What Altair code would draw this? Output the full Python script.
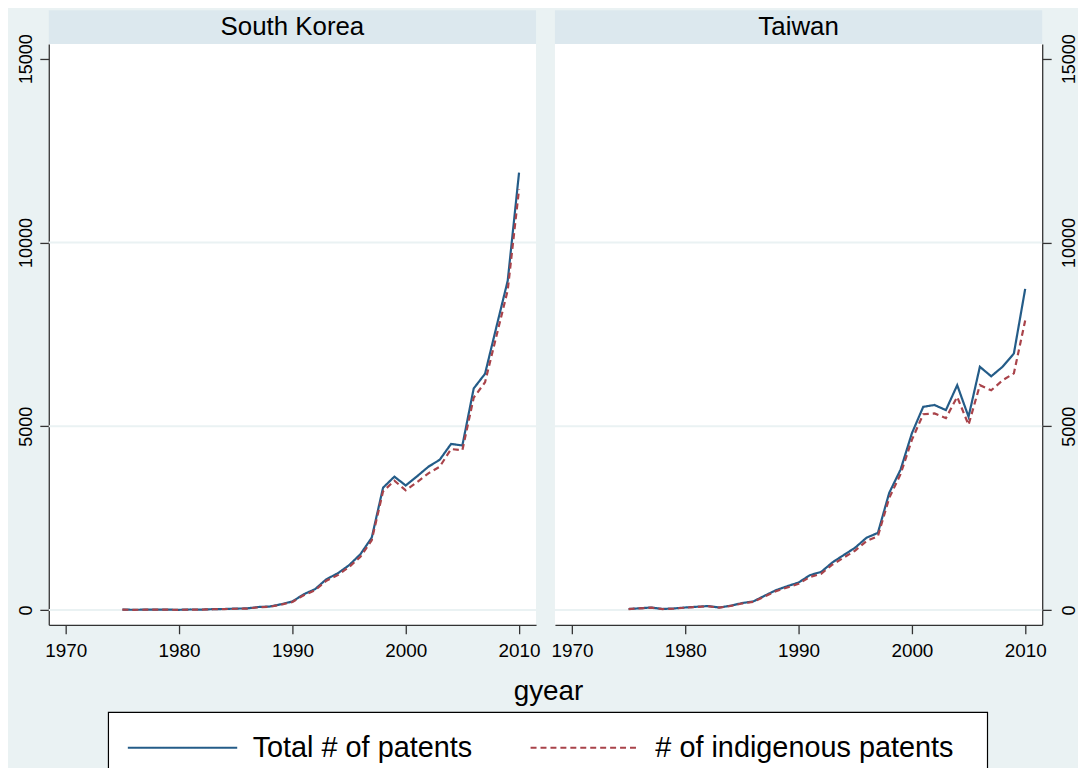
import altair as alt
import pandas as pd

# ---------------- data ----------------
years = list(range(1975, 2011))

korea_total = [14, 8, 12, 15, 12, 8, 17, 14, 26, 30, 41, 46, 84, 97, 159, 235,
               430, 570, 840, 1000, 1220, 1520, 1970, 3330, 3630, 3390, 3640, 3900,
               4090, 4520, 4480, 6030, 6430, 7700, 8960, 11900]
korea_indig = [12, 7, 11, 13, 11, 7, 15, 12, 23, 27, 37, 42, 77, 90, 148, 220,
               405, 540, 800, 950, 1170, 1450, 1900, 3230, 3520, 3260, 3480, 3720,
               3900, 4380, 4350, 5780, 6200, 7450, 8700, 11450]
taiwan_total = [30, 50, 70, 30, 45, 70, 90, 110, 70, 120, 190, 235, 390, 540, 650, 750,
                950, 1040, 1300, 1500, 1700, 1970, 2100, 3190, 3820, 4810, 5530, 5580,
                5440, 6120, 5260, 6620, 6360, 6620, 6980, 8740]
taiwan_indig = [28, 48, 66, 28, 42, 66, 86, 104, 66, 112, 180, 222, 370, 515, 615, 715,
                900, 990, 1240, 1430, 1620, 1880, 2010, 3050, 3700, 4630, 5330, 5350,
                5220, 5800, 5040, 6120, 5980, 6250, 6440, 7880]

panel_names = ["South Korea", "Taiwan"]
series_names = ["Total # of patents", "# of indigenous patents"]
x_ticks = [1970, 1980, 1990, 2000, 2010]
y_ticks = [0, 5000, 10000, 15000]
grid_values = [0, 5000, 10000]

# ---------------- style ----------------
BLUE = "#245C88"
RED = "#A9434A"
BG = "#EAF2F3"
STRIP = "#DCE8EE"
AXC = "#333333"
W, H = 490, 584
HEADER = 34
FONT = "Liberation Sans"

# long horizontal stroke used as the legend key (110 px long at symbolSize 400)
KEY_PATH = "M-5.5,0L5.5,0"


def panel_df(total, indig):
    rows = [{"year": y, "value": v, "series": series_names[0]} for y, v in zip(years, total)]
    rows += [{"year": y, "value": v, "series": series_names[1]} for y, v in zip(years, indig)]
    return pd.DataFrame(rows)


legend = alt.Legend(
    orient="none", legendX=60, legendY=678, direction="horizontal", columns=2,
    title=None, symbolType=KEY_PATH, symbolSize=400, symbolStrokeWidth=2,
    symbolOffset=45, labelOffset=56,
    labelFontSize=29, labelFont=FONT, labelColor="black", labelLimit=600,
    padding=15, columnPadding=54,
)


def panel(name, total, indig, side):
    xscale = alt.Scale(domain=[1968.5, 2011.5], nice=False, zero=False)
    yscale = alt.Scale(domain=[-400, 15400], nice=False, zero=False)
    yaxis = alt.Axis(
        orient=side, values=y_ticks, format="d", labelAngle=270, labelAlign="center",
        labelBaseline="bottom" if side == "left" else "top", title=None, grid=False,
        tickSize=9, labelPadding=4 if side == "left" else 9, labelFontSize=18,
    )
    if side == "left":
        xaxis = alt.Axis(values=x_ticks, format="d", grid=False, tickSize=9, labelPadding=8,
                         labelFontSize=19, title="gyear", titleFontSize=28,
                         titleFontWeight="normal", titleX=502, titleY=67,
                         titleAlign="center", titleBaseline="middle")
    else:
        xaxis = alt.Axis(values=x_ticks, format="d", grid=False, tickSize=9, labelPadding=8,
                         labelFontSize=19, title=None)

    df = panel_df(total, indig)
    grid = alt.Chart(pd.DataFrame({"g": grid_values})).mark_rule(
        color=BG, strokeWidth=2
    ).encode(y=alt.Y("g:Q", scale=yscale, axis=yaxis))

    lines = alt.Chart(df).mark_line(strokeWidth=2.2).encode(
        x=alt.X("year:Q", scale=xscale, axis=xaxis),
        y=alt.Y("value:Q", scale=yscale, axis=yaxis),
        color=alt.Color("series:N", scale=alt.Scale(domain=series_names, range=[BLUE, RED]),
                        legend=legend),
        strokeDash=alt.StrokeDash("series:N",
                                  scale=alt.Scale(domain=series_names, range=[[1, 0], [6, 4]]),
                                  legend=legend),
    )

    head = pd.DataFrame({"country": [name]})
    strip = alt.Chart(head).mark_rect(color=STRIP).encode(
        x=alt.value(0), x2=alt.value(W), y=alt.value(-HEADER), y2=alt.value(0)
    )
    label = alt.Chart(head).mark_text(fontSize=26, color="black", baseline="middle",
                                      align="center").encode(
        x=alt.value(W / 2), y=alt.value(-HEADER / 2), text="country:N"
    )
    layers = [grid, lines, strip, label]
    if side == "left":
        # white, black-edged frame behind the legend (legend sits at the bottom, centred)
        frame = alt.Chart(head).mark_rect(fill="white", stroke="black", strokeWidth=1.2).encode(
            x=alt.value(60), x2=alt.value(944), y=alt.value(672), y2=alt.value(768)
        )
        layers.append(frame)
    return alt.layer(*layers).properties(width=W, height=H)


left = panel(panel_names[0], korea_total, korea_indig, "left")
right = panel(panel_names[1], taiwan_total, taiwan_indig, "right")

chart = alt.hconcat(left, right, spacing=19, bounds="flush").configure(
    font=FONT, background=BG, padding={"left": 9, "top": 0, "right": 0, "bottom": 0}
).configure_view(fill="white", stroke=None).configure_axis(
    labelColor="black", domainColor=AXC, tickColor=AXC, domainWidth=1.3, tickWidth=1.3,
    titleColor="black", labelFont=FONT, titleFont=FONT,
)

chart.save("out.html", embed_options={"renderer": "svg", "actions": False})
